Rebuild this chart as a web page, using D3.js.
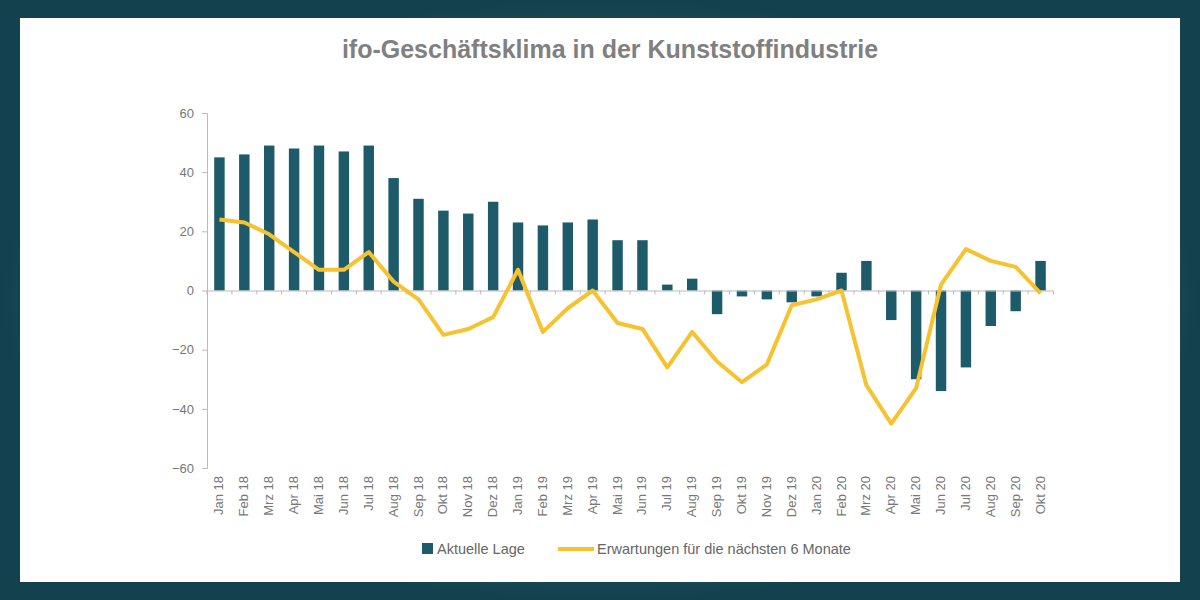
<!DOCTYPE html>
<html><head><meta charset="utf-8">
<script src="https://cdn.jsdelivr.net/npm/d3@7"></script>
<style>body{margin:0;background:#1b4f5e;}svg{display:block;}</style>
</head><body>
<script>
const months = ["Jan 18","Feb 18","Mrz 18","Apr 18","Mai 18","Jun 18","Jul 18","Aug 18","Sep 18","Okt 18","Nov 18","Dez 18",
  "Jan 19","Feb 19","Mrz 19","Apr 19","Mai 19","Jun 19","Jul 19","Aug 19","Sep 19","Okt 19","Nov 19","Dez 19",
  "Jan 20","Feb 20","Mrz 20","Apr 20","Mai 20","Jun 20","Jul 20","Aug 20","Sep 20","Okt 20"];
const lage = [45,46,49,48,49,47,49,38,31,27,26,30,23,22,23,24,17,17,2,4,-8,-2,-3,-4,-2,6,10,-10,-30,-34,-26,-12,-7,10];
const erwartungen = [24,23,19,13,7,7,13,3,-3,-15,-13,-9,7,-14,-6,0,-11,-13,-26,-14,-24,-31,-25,-5,-3,0,-32,-45,-33,2,14,10,8,-1];
const yTicks = [60,40,20,0,-20,-40,-60];

const width = 1200, height = 600;
const svg = d3.select("body").append("svg").attr("width", width).attr("height", height);

// frame
const defs = svg.append("defs");
const grad = defs.append("radialGradient").attr("id","bg");
grad.append("stop").attr("offset","0%").attr("stop-color","#4a93a3");
grad.append("stop").attr("offset","100%").attr("stop-color","#14414e");
svg.append("rect").attr("width",width).attr("height",height).attr("fill","url(#bg)");
svg.append("rect").attr("x",20).attr("y",18).attr("width",1160).attr("height",564).attr("fill","#fff");

svg.append("text").attr("x",610).attr("y",58).attr("text-anchor","middle")
  .attr("font-family","Liberation Sans, Arial").attr("font-weight","bold").attr("font-size",25)
  .attr("fill","#808080").text("ifo-Geschäftsklima in der Kunststoffindustrie");

const x = d3.scaleBand().domain(months).range([207, 1053]).paddingInner(0.58).paddingOuter(0.29);
const y = d3.scaleLinear().domain([-60, 60]).range([468, 113]);

svg.selectAll("rect.bar").data(lage).enter().append("rect")
  .attr("class","bar")
  .attr("x",(d,i)=>x(months[i]))
  .attr("y",d=>y(Math.max(0,d)))
  .attr("width",x.bandwidth())
  .attr("height",d=>Math.abs(y(d)-y(0)))
  .attr("fill","#1d5b6b");

// y axis
const yAxis = svg.append("g").attr("transform","translate(207,0)")
  .call(d3.axisLeft(y).tickValues(yTicks).tickSize(5).tickPadding(8));
yAxis.selectAll("text").attr("font-family","Liberation Sans, Arial").attr("font-size",13).attr("fill","#777");
yAxis.selectAll("line,path").attr("stroke","#bbb");

// x axis at zero
const xAxis = svg.append("g").attr("transform","translate(0,"+y(0)+")")
  .call(d3.axisBottom(x).tickSize(4).tickFormat(""));
xAxis.selectAll("line").attr("stroke","#bbb").attr("transform",`translate(${-x.step()/2},0)`);
xAxis.select("path").attr("stroke","#bbb");

// line
const line = d3.line().x((d,i)=>x(months[i])+x.bandwidth()/2).y(d=>y(d));
svg.append("path").datum(erwartungen).attr("d",line).attr("fill","none")
  .attr("stroke","#f7c22f").attr("stroke-width",4).attr("stroke-linejoin","round");

// month labels
svg.selectAll("text.m").data(months).enter().append("text").attr("class","m")
  .attr("transform",d=>`translate(${x(d)+x.bandwidth()/2+4},476) rotate(-90)`)
  .attr("text-anchor","end").attr("font-family","Liberation Sans, Arial").attr("font-size",13)
  .attr("fill","#777").text(d=>d);

// legend
const lg = svg.append("g").attr("font-family","Liberation Sans, Arial").attr("font-size",14.5).attr("fill","#666");
lg.append("rect").attr("x",422).attr("y",543).attr("width",11).attr("height",11).attr("fill","#1d5b6b");
lg.append("text").attr("x",437).attr("y",554).text("Aktuelle Lage");
lg.append("line").attr("x1",558).attr("x2",594).attr("y1",549).attr("y2",549).attr("stroke","#f7c22f").attr("stroke-width",4);
lg.append("text").attr("x",597).attr("y",554).text("Erwartungen für die nächsten 6 Monate");
</script>
</body></html>
